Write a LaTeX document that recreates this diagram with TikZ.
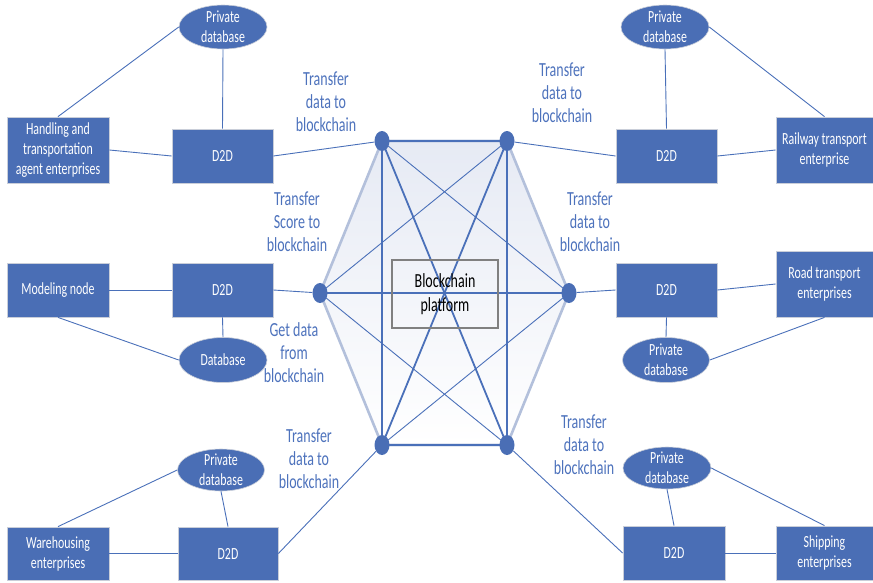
\documentclass[tikz,border=0pt]{standalone}
\usepackage{fontspec}
\newfontfamily\diafont[FakeStretch=0.7]{Carlito}
\usetikzlibrary{shapes.geometric}
\definecolor{boxblue}{HTML}{4A6EB5}
\definecolor{edgeblue}{HTML}{4A70B9}
\definecolor{labelblue}{HTML}{4D72BC}
\definecolor{rimblue}{HTML}{B3C0DB}
\definecolor{boxrim}{HTML}{C9CED9}
\definecolor{hexfill}{HTML}{E6EAF4}
\tikzset{
  entity/.style={draw=boxrim, line width=0.8pt, fill=boxblue, text=white,
    inner sep=0pt, align=center, font=\diafont\fontsize{17}{20}\selectfont},
  store/.style={shape=ellipse, draw=boxrim, line width=0.6pt, fill=boxblue,
    inner sep=0pt},
  storetext/.style={text=white, align=center, inner sep=0pt,
    font=\diafont\fontsize{17}{20}\selectfont},
  peer/.style={shape=ellipse, fill=boxblue, inner sep=0pt,
    minimum width=15pt, minimum height=20pt},
  note/.style={text=labelblue, align=center, inner sep=0pt,
    font=\diafont\fontsize{20}{23}\selectfont},
  link/.style={draw=edgeblue, line width=0.9pt},
}
\begin{document}
\begin{tikzpicture}[x=1pt,y=-1pt]
\useasboundingbox (0,0) rectangle (873,582);

% blockchain peers on a hexagon
\coordinate (ptl) at (382,141);
\coordinate (ptr) at (507,141);
\coordinate (pl) at (320,293);
\coordinate (pr) at (569,293);
\coordinate (pbl) at (382,445);
\coordinate (pbr) at (507,445);

\shade[top color=hexfill, bottom color=white]
  (ptl) -- (ptr) -- (pr) -- (pbr) -- (pbl) -- (pl) -- cycle;
\draw[rimblue, line width=2.6pt, line join=round]
  (ptl) -- (ptr) -- (pr) -- (pbr) -- (pbl) -- (pl) -- cycle;

% mesh between the peers
\draw[link, line width=1.2pt] (ptl) -- (ptr);
\draw[link, line width=1.2pt] (pbl) -- (pbr);
\draw[link, line width=1.8pt] (ptl) -- (pbr);
\draw[link, line width=1.8pt] (ptr) -- (pbl);
\draw[link, line width=1.5pt] (ptl) -- (pbl);
\draw[link, line width=1.5pt] (ptr) -- (pbr);
\draw[link, line width=1.4pt] (pl) -- (pr);
\draw[link, line width=0.9pt] (ptl) -- (pr);
\draw[link, line width=0.9pt] (ptr) -- (pl);
\draw[link, line width=0.9pt] (pl) -- (pbr);
\draw[link, line width=0.9pt] (pbl) -- (pr);

\node[peer] (tl) at (ptl) {};
\node[peer] (tr) at (ptr) {};
\node[peer] (l) at (pl) {};
\node[peer] (r) at (pr) {};
\node[peer] (bl) at (pbl) {};
\node[peer] (br) at (pbr) {};

\node[draw=black!50, line width=2pt, minimum width=106pt, minimum height=68pt,
  inner sep=0pt, align=center, font=\diafont\fontsize{20}{24}\selectfont]
  (platform) at (445,294) {Blockchain\\platform};

% upper left participant
\node[entity, minimum width=102pt, minimum height=66pt] (handling) at (58,150)
  {Handling and\\transportation\\agent enterprises};
\node[entity, minimum width=101pt, minimum height=54pt] (d2da) at (222.5,156) {D2D};
\node[store, minimum width=88pt, minimum height=44pt,
  label={[storetext]center:Private\\database}] (pdba) at (223,27) {};

% middle left participant
\node[entity, minimum width=102pt, minimum height=54pt] (modeling) at (58,290) {Modeling node};
\node[entity, minimum width=101pt, minimum height=54pt] (d2db) at (222.5,290) {D2D};
\node[store, minimum width=88pt, minimum height=45pt,
  label={[storetext]center:Database}] (dbb) at (223,360) {};

% lower left participant
\node[entity, minimum width=102pt, minimum height=53pt] (warehousing) at (58,553.5)
  {Warehousing\\enterprises};
\node[entity, minimum width=100pt, minimum height=53pt] (d2dc) at (228,553.5) {D2D};
\node[store, minimum width=87pt, minimum height=42pt,
  label={[storetext]center:Private\\database}] (pdbc) at (221,470) {};

% upper right participant
\node[entity, minimum width=97pt, minimum height=66pt] (railway) at (824.5,150)
  {Railway transport\\enterprise};
\node[entity, minimum width=101pt, minimum height=54pt] (d2dd) at (666.5,156) {D2D};
\node[store, minimum width=88pt, minimum height=44pt,
  label={[storetext]center:Private\\database}] (pdbd) at (665,27) {};

% middle right participant
\node[entity, minimum width=97pt, minimum height=66pt] (road) at (824.5,284)
  {Road transport\\enterprises};
\node[entity, minimum width=101pt, minimum height=54pt] (d2de) at (666.5,290) {D2D};
\node[store, minimum width=87pt, minimum height=45pt,
  label={[storetext]center:Private\\database}] (pdbe) at (666,360) {};

% lower right participant
\node[entity, minimum width=97pt, minimum height=54pt] (shipping) at (824.5,553)
  {Shipping\\enterprises};
\node[entity, minimum width=102pt, minimum height=54pt] (d2df) at (674,553) {D2D};
\node[store, minimum width=88pt, minimum height=42pt,
  label={[storetext]center:Private\\database}] (pdbf) at (667,468) {};

% local links
\draw[link] (handling.north) -- (pdba.west);
\draw[link] (pdba.south) -- (d2da.north);
\draw[link] (handling.east) -- (d2da.west);
\draw[link] (modeling.east) -- (d2db.west);
\draw[link] (modeling.south) -- (dbb.west);
\draw[link] (d2db.south) -- (dbb.north);
\draw[link] (warehousing.north) -- (pdbc.west);
\draw[link] (pdbc.south) -- (d2dc.north);
\draw[link] (warehousing.east) -- (d2dc.west);
\draw[link] (pdbd.south) -- (d2dd.north);
\draw[link] (pdbd.east) -- (railway.north);
\draw[link] (d2dd.east) -- (railway.west);
\draw[link] (d2de.east) -- (road.west);
\draw[link] (d2de.south) -- (pdbe.north);
\draw[link] (pdbe.east) -- (road.south);
\draw[link] (pdbf.south) -- (d2df.north);
\draw[link] (pdbf.east) -- (shipping.north);
\draw[link] (d2df.east) -- (shipping.west);

% links to the blockchain peers
\draw[link] (d2da.east) -- (tl);
\draw[link] (d2db.east) -- (l);
\draw[link] (d2dc.east) -- (bl);
\draw[link] (d2dd.west) -- (tr);
\draw[link] (d2de.west) -- (r);
\draw[link] (d2df.west) -- (br);

% link annotations
\node[note] (n1) at (326,102) {Transfer\\data to\\blockchain};
\node[note] (n2) at (562,93) {Transfer\\data to\\blockchain};
\node[note] (n3) at (297,222) {Transfer\\Score to\\blockchain};
\node[note] (n4) at (294,353) {Get data\\from\\blockchain};
\node[note] (n5) at (590,222) {Transfer\\data to\\blockchain};
\node[note] (n6) at (309,459) {Transfer\\data to\\blockchain};
\node[note] (n7) at (584,445) {Transfer\\data to\\blockchain};
\end{tikzpicture}
\end{document}
